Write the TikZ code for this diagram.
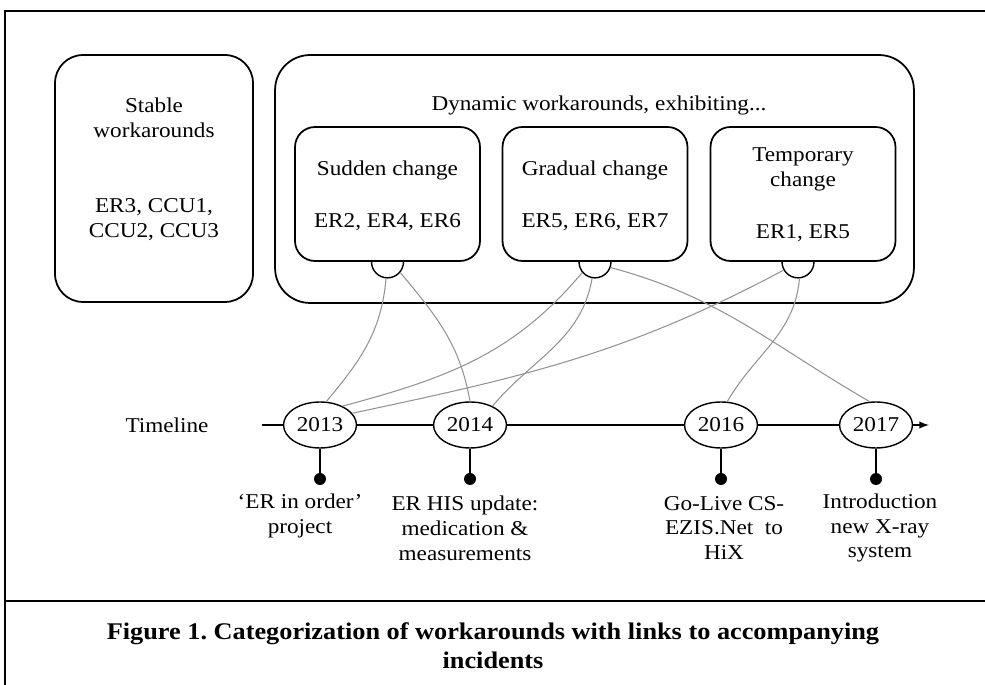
\documentclass[tikz,border=0pt]{standalone}
\usepackage{fontspec}
\setmainfont{Liberation Serif}[FakeStretch=1.1]
\usepackage{tikz}
\usetikzlibrary{shapes,arrows,positioning,backgrounds}
\frenchspacing

\begin{document}
\begin{tikzpicture}[
    x=0.02cm, y=0.02cm,
    every node/.style={font=\fontsize{12}{14.2}\selectfont},
    outer/.style={rectangle, draw, line width=1pt},
    kind/.style={rectangle, draw, line width=1pt, fill=white, rounded corners=0.4cm, minimum width=3.7cm, minimum height=2.68cm},
    port/.style={circle, draw, line width=0.8pt, fill=white, minimum size=0.64cm, inner sep=0pt},
    year/.style={ellipse, draw, line width=0.8pt, fill=white, minimum width=1.46cm, minimum height=0.92cm, inner sep=0pt},
    event/.style={circle, fill=black, minimum size=0.24cm, inner sep=0pt},
    eventtext/.style={align=center},
    link/.style={draw=gray!85, line width=0.6pt},
    stem/.style={line width=0.9pt}
]
\useasboundingbox (0,0) rectangle (985,-685);

% Frame and caption
\draw[line width=0.8pt] (985,-11) -- (5,-11) -- (5,-685);
\draw[line width=0.8pt] (5,-601) -- (985,-601);
\node[font=\fontsize{13.6}{16.5}\selectfont\bfseries, align=center] (caption) at (493,-645.5) {Figure 1. Categorization of workarounds with links to accompanying\\incidents};

% Stable workarounds
\node[outer, rounded corners=0.56cm, minimum width=3.96cm, minimum height=4.94cm] (stable) at (154,-178.5) {};
\node[align=center] (stabletitle) at (154,-117.5) {Stable\\workarounds};
\node[align=center] (stablecases) at (154,-219.5) {ER3, CCU1,\\CCU2, CCU3};

% Dynamic workarounds
\node[outer, rounded corners=0.7cm, minimum width=12.78cm, minimum height=4.96cm] (dynamic) at (594.5,-179) {};
\node (dyntitle) at (599,-105) {Dynamic workarounds, exhibiting...};

\node[kind] (sudden) at (387.5,-194) {};
\node (suddentitle) at (387.5,-170) {Sudden change};
\node (suddencases) at (387.5,-222) {ER2, ER4, ER6};

\node[kind] (gradual) at (595,-194) {};
\node (gradualtitle) at (595,-170) {Gradual change};
\node (gradualcases) at (595,-222) {ER5, ER6, ER7};

\node[kind] (temporary) at (803,-194) {};
\node[align=center] (temptitle) at (803,-169.5) {Temporary\\change};
\node (tempcases) at (803,-233) {ER1, ER5};

\begin{scope}[on background layer]
\node[port] (sudport) at (sudden.south) {};
\node[port] (gradport) at (gradual.south) {};
\node[port] (tempport) at ([xshift=-0.1cm]temporary.south) {};
\end{scope}

% Timeline
\node (timeline) at (167,-425) {Timeline};
\coordinate (tstart) at (262,-425);
\coordinate (tend) at (929,-425);
\node[year] (y2013) at (320,-425) {2013};
\node[year] (y2014) at (470,-425) {2014};
\node[year] (y2016) at (721,-425) {2016};
\node[year] (y2017) at (876,-425) {2017};
\draw[line width=0.9pt, -latex] (tstart) -- (y2013) (y2013) -- (y2014) (y2014) -- (y2016) (y2016) -- (y2017) (y2017) -- (tend);

% Incidents
\node[event] (e2013) at (320,-479) {};
\node[event] (e2014) at (470,-479) {};
\node[event] (e2016) at (721,-479) {};
\node[event] (e2017) at (876,-479) {};
\draw[stem] (y2013) -- (e2013);
\draw[stem] (y2014) -- (e2014);
\draw[stem] (y2016) -- (e2016);
\draw[stem] (y2017) -- (e2017);
\node[eventtext] (t2013) at (300,-516) {‘ER in order’\\project};
\node[eventtext] (t2014) at (465,-528) {ER HIS update:\\medication \&\\measurements};
\node[eventtext] (t2016) at (724,-528) {Go-Live CS-\\EZIS.Net\ \ to\\HiX};
\node[eventtext] (t2017) at (880,-528) {Introduction\\new X-ray\\system};

% Links between workarounds and incidents
\draw[link] (sudport.265) to[out=265, in=50] (y2013.75);
\draw[link] (sudport.-40) to[out=-50, in=100] (y2014.90);
\draw[link] (gradport.220) to[out=230, in=15] (y2013.40);
\draw[link] (gradport.260) to[out=260, in=50] (y2014.40);
\draw[link] (gradport.-20) to[out=-15, in=150] (y2017.105);
\draw[link] (tempport.210) to[out=208, in=12] (y2013.20);
\draw[link] (tempport.275) to[out=265, in=60] (y2016.75);

\end{tikzpicture}
\end{document}
